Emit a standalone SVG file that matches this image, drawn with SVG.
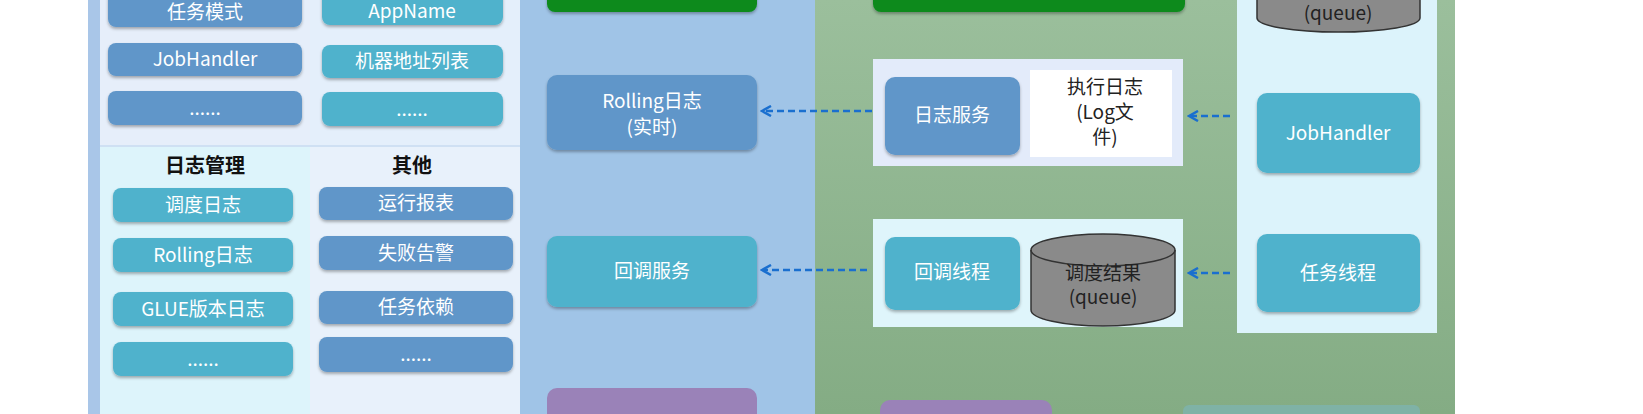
<svg xmlns="http://www.w3.org/2000/svg" width="1643" height="414" viewBox="0 0 1643 414">
<defs>
<filter id="sh" x="-10%" y="-10%" width="120%" height="130%"><feDropShadow dx="0" dy="2" stdDeviation="1.5" flood-color="#000" flood-opacity="0.3"/></filter>
<marker id="ah" markerWidth="12" markerHeight="12" refX="10" refY="6" orient="auto" markerUnits="userSpaceOnUse"><path d="M1,1 L10,6 L1,11" fill="none" stroke="#1a6fcf" stroke-width="2.5"/></marker>
<linearGradient id="gg" x1="0" y1="0" x2="0" y2="1"><stop offset="0" stop-color="#9bbf9c"/><stop offset="1" stop-color="#84ac84"/></linearGradient>
</defs>
<style>
.b{fill:#6096c9;filter:url(#sh)}
.t{fill:#4fb2cc;filter:url(#sh)}
.w{font-family:"Noto Sans CJK SC","Noto Sans",sans-serif;fill:#fff;font-size:19px;text-anchor:middle}
.k{font-family:"Noto Sans CJK SC","Noto Sans",sans-serif;fill:#222;font-size:19px;text-anchor:middle}
.h{font-family:"Noto Sans CJK SC",sans-serif;fill:#111;font-size:20px;font-weight:bold;text-anchor:middle}
.c{stroke:#1a6fcf;stroke-width:2.5;stroke-dasharray:7,4;fill:none;marker-end:url(#ah)}
.cy{fill:#8a8a8a;stroke:#333;stroke-width:1.5}
</style>
<rect width="1643" height="414" fill="#fff"/>
<g id="left-panel">
<rect x="88" y="0" width="432" height="414" fill="#a9c6e8"/>
<rect x="100" y="0" width="210" height="147" fill="#e6eefa"/>
<rect x="310" y="0" width="210" height="147" fill="#e4effb"/>
<rect x="100" y="147" width="210" height="267" fill="#ddf4fb"/>
<rect x="310" y="147" width="210" height="267" fill="#e8f1fb"/>
<rect x="100" y="145" width="420" height="2" fill="#cfe0f3"/>
</g>
<g id="mid-panel"><rect x="520" y="0" width="295" height="414" fill="#a0c4e7"/></g>
<g id="right-panel">
<rect x="815" y="0" width="640" height="414" fill="url(#gg)"/>
<rect x="1237" y="0" width="200" height="333" fill="#dcf3fb"/>
<rect x="873" y="59" width="310" height="107" fill="#e3ebfa"/>
<rect x="873" y="219" width="310" height="108" fill="#dff5fb"/>
</g>
<g id="n1"><rect class="b" x="108" y="-10" width="194" height="37" rx="8"/><text class="w" x="205" y="19">任务模式</text></g>
<g id="n2"><rect class="b" x="108" y="43" width="194" height="33" rx="8"/><text class="w" x="205" y="66">JobHandler</text></g>
<g id="n3"><rect class="b" x="108" y="91" width="194" height="34" rx="8"/><text class="w" x="205" y="115" font-size="12">......</text></g>
<g id="n4"><rect class="t" x="322" y="-10" width="181" height="35" rx="8"/><text class="w" x="412" y="18">AppName</text></g>
<g id="n5"><rect class="t" x="322" y="45" width="181" height="33" rx="8"/><text class="w" x="412" y="68">机器地址列表</text></g>
<g id="n6"><rect class="t" x="322" y="92" width="181" height="34" rx="8"/><text class="w" x="412" y="116" font-size="12">......</text></g>
<text class="h" x="205" y="173">日志管理</text>
<text class="h" x="412" y="173">其他</text>
<g id="n7"><rect class="t" x="113" y="188" width="180" height="34" rx="8"/><text class="w" x="203" y="212">调度日志</text></g>
<g id="n8"><rect class="t" x="113" y="238" width="180" height="34" rx="8"/><text class="w" x="203" y="262">Rolling日志</text></g>
<g id="n9"><rect class="t" x="113" y="292" width="180" height="34" rx="8"/><text class="w" x="203" y="316">GLUE版本日志</text></g>
<g id="n10"><rect class="t" x="113" y="342" width="180" height="34" rx="8"/><text class="w" x="203" y="366" font-size="12">......</text></g>
<g id="n11"><rect class="b" x="319" y="187" width="194" height="33" rx="8"/><text class="w" x="416" y="210">运行报表</text></g>
<g id="n12"><rect class="b" x="319" y="236" width="194" height="34" rx="8"/><text class="w" x="416" y="260">失败告警</text></g>
<g id="n13"><rect class="b" x="319" y="291" width="194" height="33" rx="8"/><text class="w" x="416" y="314">任务依赖</text></g>
<g id="n14"><rect class="b" x="319" y="337" width="194" height="35" rx="8"/><text class="w" x="416" y="361" font-size="12">......</text></g>
<g id="m0"><rect x="547" y="-20" width="210" height="32" rx="8" fill="#0b8a1e" filter="url(#sh)"/></g>
<g id="m1"><rect class="b" x="547" y="75" width="210" height="75" rx="10"/><text class="w" x="652" y="108">Rolling日志</text><text class="w" x="652" y="134">(实时)</text></g>
<g id="m2"><rect class="t" x="547" y="236" width="210" height="71" rx="10"/><text class="w" x="652" y="278">回调服务</text></g>
<g id="m3"><rect x="547" y="388" width="210" height="40" rx="10" fill="#9a82b8"/></g>
<g id="r0"><rect x="873" y="-20" width="312" height="32" rx="8" fill="#0b8a1e" filter="url(#sh)"/></g>
<g id="r1"><rect class="b" x="885" y="77" width="135" height="78" rx="10"/><text class="w" x="952" y="122">日志服务</text></g>
<g id="r2"><rect x="1030" y="70" width="142" height="87" fill="#fff"/><text class="k" x="1105" y="94">执行日志</text><text class="k" x="1105" y="119">(Log文</text><text class="k" x="1105" y="144">件)</text></g>
<g id="r3"><rect class="t" x="885" y="237" width="135" height="73" rx="10"/><text class="w" x="952" y="279">回调线程</text></g>
<g id="r4"><path class="cy" d="M1031,250 L1031,310 A72,16 0 0 0 1175,310 L1175,250 A72,16 0 0 0 1031,250 Z"/><path d="M1031,250 A72,16 0 0 0 1175,250" fill="none" stroke="#333" stroke-width="1.5"/><text class="k" x="1103" y="280" font-size="18">调度结果</text><text class="k" x="1103" y="304" font-size="18">(queue)</text></g>
<g id="r5"><path class="cy" d="M1257,-10 L1257,18 A81,14 0 0 0 1420,18 L1420,-10 Z"/><text class="k" x="1338" y="20">(queue)</text></g>
<g id="r6"><rect class="t" x="1257" y="93" width="163" height="80" rx="10"/><text class="w" x="1338" y="140">JobHandler</text></g>
<g id="r7"><rect class="t" x="1257" y="234" width="163" height="78" rx="10"/><text class="w" x="1338" y="280">任务线程</text></g>
<g id="r8"><rect x="880" y="400" width="172" height="30" rx="10" fill="#9a82b8"/></g>
<g id="r9"><rect x="1183" y="405" width="237" height="30" rx="6" fill="#7fb2a6"/></g>
<g id="connectors">
<line class="c" x1="872" y1="111" x2="762" y2="111"/>
<line class="c" x1="867" y1="270" x2="762" y2="270"/>
<line class="c" x1="1230" y1="116" x2="1189" y2="116"/>
<line class="c" x1="1230" y1="273" x2="1189" y2="273"/>
</g>
</svg>
